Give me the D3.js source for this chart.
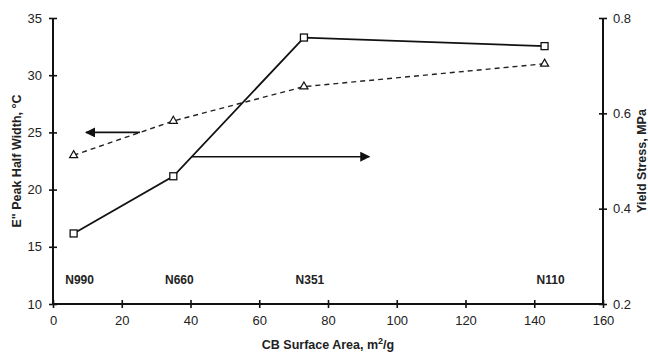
<!DOCTYPE html>
<html>
<head>
<meta charset="utf-8">
<script src="https://cdn.jsdelivr.net/npm/d3@7"></script>
<style>
  body { margin: 0; background: #fff; }
  svg { display: block; font-family: Arial, "Liberation Sans", sans-serif; }
</style>
</head>
<body>
<div id="chart"></div>
<script>
// surface area of the carbon blacks, m2/g
var surfaceArea = [6, 35, 73, 143];
var grades = ["N990", "N660", "N351", "N110"];
// E'' peak half width, C (left axis, triangles, dashed)
var halfWidth = [23, 26, 29, 31];
// yield stress, MPa (right axis, squares, solid)
var yieldStress = [0.348, 0.468, 0.759, 0.741];

var xTicks = [0, 20, 40, 60, 80, 100, 120, 140, 160];
var leftTicks = [10, 15, 20, 25, 30, 35];
var rightTicks = [0.2, 0.4, 0.6, 0.8];

var width = 648, height = 353;
var margin = { top: 18, right: 45, bottom: 49, left: 53 };

var svg = d3.select("#chart").append("svg")
  .attr("width", width)
  .attr("height", height);

var x = d3.scaleLinear().domain([0, 160]).range([margin.left, width - margin.right]);
var yL = d3.scaleLinear().domain([10, 35]).range([height - margin.bottom, margin.top]);
var yR = d3.scaleLinear().domain([0.2, 0.8]).range([height - margin.bottom, margin.top]);

svg.append("defs").append("marker")
  .attr("id", "head")
  .attr("viewBox", "0 0 10 10")
  .attr("refX", 9).attr("refY", 5)
  .attr("markerWidth", 10).attr("markerHeight", 10)
  .attr("markerUnits", "userSpaceOnUse")
  .attr("orient", "auto")
  .append("path")
  .attr("d", "M0,0L10,5L0,10z")
  .attr("fill", "#111");

// axes
var xAxis = svg.append("g")
  .attr("transform", "translate(0," + yL(10) + ")")
  .call(d3.axisBottom(x).tickValues(xTicks).tickSize(4).tickPadding(8));
xAxis.selectAll(".tick line").attr("y1", -4);

var leftAxis = svg.append("g")
  .attr("transform", "translate(" + x(0) + ",0)")
  .call(d3.axisLeft(yL).tickValues(leftTicks).tickSize(4).tickPadding(7));
leftAxis.selectAll(".tick line").attr("x1", 4);

var rightAxis = svg.append("g")
  .attr("transform", "translate(" + x(160) + ",0)")
  .call(d3.axisRight(yR).tickValues(rightTicks).tickFormat(d3.format(".1f")).tickSize(4).tickPadding(6));
rightAxis.selectAll(".tick line").attr("x1", -4);

svg.selectAll(".domain").attr("stroke", "#111").attr("stroke-width", 2).attr("d", function () {
  return d3.select(this.parentNode).node() === xAxis.node()
    ? "M" + x(0) + ",0H" + x(160)
    : "M0," + yL(10) + "V" + yL(35);
});
svg.selectAll(".tick line").attr("stroke", "#111").attr("stroke-width", 1.6);
svg.selectAll(".tick text").attr("font-size", 13).attr("fill", "#222");

// series
var pts = surfaceArea.map(function (s, i) {
  return { x: s, hw: halfWidth[i], ys: yieldStress[i], grade: grades[i] };
});

svg.append("path")
  .datum(pts)
  .attr("fill", "none")
  .attr("stroke", "#222")
  .attr("stroke-width", 1.4)
  .attr("stroke-dasharray", "5,4")
  .attr("d", d3.line().x(function (d) { return x(d.x); }).y(function (d) { return yL(d.hw); }));

svg.append("path")
  .datum(pts)
  .attr("fill", "none")
  .attr("stroke", "#111")
  .attr("stroke-width", 1.8)
  .attr("d", d3.line().x(function (d) { return x(d.x); }).y(function (d) { return yR(d.ys); }));

svg.selectAll(".tri").data(pts).enter().append("path")
  .attr("class", "tri")
  .attr("transform", function (d) { return "translate(" + x(d.x) + "," + yL(d.hw) + ")"; })
  .attr("d", d3.symbol().type(d3.symbolTriangle).size(28))
  .attr("fill", "#fff")
  .attr("stroke", "#111")
  .attr("stroke-width", 1.2);

svg.selectAll(".sq").data(pts).enter().append("rect")
  .attr("class", "sq")
  .attr("x", function (d) { return x(d.x) - 3.5; })
  .attr("y", function (d) { return yR(d.ys) - 3.5; })
  .attr("width", 7).attr("height", 7)
  .attr("fill", "#fff")
  .attr("stroke", "#111")
  .attr("stroke-width", 1.3);

// grade labels
svg.selectAll(".grade").data(pts).enter().append("text")
  .attr("class", "grade")
  .attr("x", function (d) { return x(d.x) + 6; })
  .attr("y", yL(12.2) + 5)
  .attr("text-anchor", "middle")
  .attr("font-size", 12)
  .attr("font-weight", "bold")
  .attr("fill", "#222")
  .text(function (d) { return d.grade; });

// arrows pointing to each series' axis
svg.append("line")
  .attr("x1", x(25.3)).attr("y1", yL(25))
  .attr("x2", x(9.6)).attr("y2", yL(25))
  .attr("stroke", "#111").attr("stroke-width", 1.8)
  .attr("marker-end", "url(#head)");
svg.append("line")
  .attr("x1", x(40.3)).attr("y1", yR(0.509))
  .attr("x2", x(92)).attr("y2", yR(0.509))
  .attr("stroke", "#111").attr("stroke-width", 1.4)
  .attr("marker-end", "url(#head)");

// axis titles
svg.append("text")
  .attr("x", x(80)).attr("y", 349)
  .attr("text-anchor", "middle")
  .attr("font-size", 12.5).attr("font-weight", "bold").attr("fill", "#222")
  .html("CB Surface Area, m<tspan dy='-5' font-size='9'>2</tspan><tspan dy='5'>/g</tspan>");

svg.append("text")
  .attr("transform", "translate(21," + (yL(22.5)) + ") rotate(-90)")
  .attr("text-anchor", "middle")
  .attr("font-size", 12.5).attr("font-weight", "bold").attr("fill", "#222")
  .text("E\" Peak Half Width, \u00B0C");

svg.append("text")
  .attr("transform", "translate(646," + (yL(22.5)) + ") rotate(-90)")
  .attr("text-anchor", "middle")
  .attr("font-size", 12.5).attr("font-weight", "bold").attr("fill", "#222")
  .text("Yield Stress, MPa");
</script>
</body>
</html>
